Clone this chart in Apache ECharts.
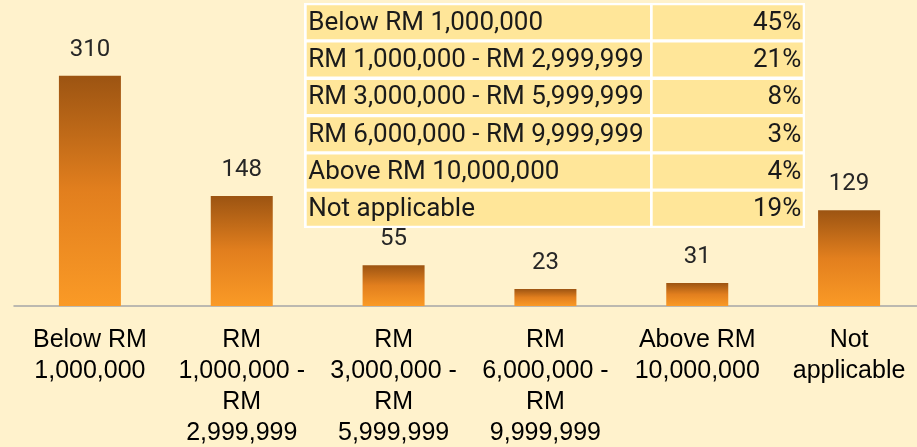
<!DOCTYPE html>
<html>
<head>
<meta charset="utf-8">
<script src="https://cdn.jsdelivr.net/npm/echarts@6/dist/echarts.min.js"></script>
<style>
  html, body { margin: 0; padding: 0; background: #FFF2CC; overflow: hidden; }
  /* the chart runs a little past the right edge, as in the original crop */
  #chart { width: 926px; height: 447px; }
</style>
</head>
<body>
<div id="chart"></div>
<script>
const categories = [
  'Below RM 1,000,000',
  'RM 1,000,000 - RM 2,999,999',
  'RM 3,000,000 - RM 5,999,999',
  'RM 6,000,000 - RM 9,999,999',
  'Above RM 10,000,000',
  'Not applicable'
];
const tickLabels = [
  'Below RM\n1,000,000',
  'RM\n1,000,000 -\nRM\n2,999,999',
  'RM\n3,000,000 -\nRM\n5,999,999',
  'RM\n6,000,000 -\nRM\n9,999,999',
  'Above RM\n10,000,000',
  'Not\napplicable'
];
const counts = [310, 148, 55, 23, 31, 129];
const shares = ['45%', '21%', '8%', '3%', '4%', '19%'];

const chart = echarts.init(document.getElementById('chart'));

// summary table drawn top-right, rows built from the arrays above
const tableLeft = 304, tableTop = 3, rowPitch = 37.3, cellH = 34;
const col1W = 343.3, col2W = 150, gap = 2.7;
const table = [{
  type: 'rect',
  shape: { x: tableLeft, y: tableTop, width: 501, height: 225 },
  style: { fill: '#FFFFFF' }
}];
categories.forEach((name, i) => {
  const y = tableTop + 2.3 + i * rowPitch;
  const x1 = tableLeft + 2.7;
  const x2 = x1 + col1W + gap;
  table.push(
    { type: 'rect', shape: { x: x1, y: y, width: col1W, height: cellH }, style: { fill: '#FFE699' } },
    { type: 'rect', shape: { x: x2, y: y, width: col2W, height: cellH }, style: { fill: '#FFE699' } },
    { type: 'text', x: x1 + 1.5, y: y + cellH / 2 + 1,
      style: { text: name, font: '26px Roboto', fill: '#1A1A1A', textVerticalAlign: 'middle' } },
    { type: 'text', x: x2 + col2W - 1.5, y: y + cellH / 2 + 1,
      style: { text: shares[i], font: '26px Roboto', fill: '#1A1A1A', textAlign: 'right', textVerticalAlign: 'middle' } }
  );
});

chart.setOption({
  backgroundColor: '#FFF2CC',
  animation: false,
  grid: { left: 14, right: 1, top: 0, bottom: 141, outerBoundsMode: 'none' },
  xAxis: {
    type: 'category',
    data: categories,
    axisLine: { lineStyle: { color: '#A6A6A6', width: 1.5 } },
    axisTick: { show: false },
    axisLabel: {
      interval: 0,
      margin: 19,
      formatter: (v, i) => tickLabels[i],
      fontFamily: 'Liberation Sans',
      fontSize: 25,
      lineHeight: 31,
      color: '#000000'
    }
  },
  yAxis: {
    type: 'value',
    min: 0,
    max: 412,
    show: false,
    splitLine: { show: false }
  },
  series: [{
    type: 'bar',
    data: counts,
    barWidth: 62,
    itemStyle: {
      color: new echarts.graphic.LinearGradient(0, 0, 0, 1, [
        { offset: 0, color: '#9C5412' },
        { offset: 0.5, color: '#E27F1E' },
        { offset: 1, color: '#FA9A26' }
      ])
    },
    label: {
      show: true,
      position: 'top',
      distance: 14,
      fontFamily: 'Roboto',
      fontSize: 24,
      color: '#262626'
    }
  }],
  graphic: table
});
</script>
</body>
</html>
